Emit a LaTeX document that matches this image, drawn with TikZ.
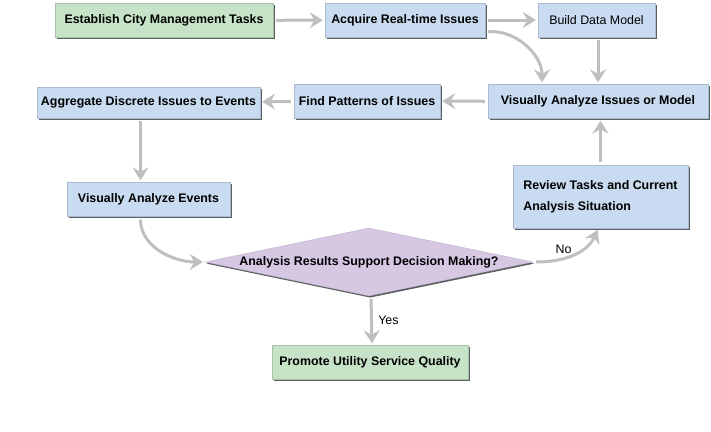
\documentclass[tikz,border=0pt]{standalone}
\usepackage{fontspec}
\setmainfont{Liberation Sans}
\usetikzlibrary{arrows.meta,shapes.geometric,shadows}
\definecolor{TaskClr}{rgb}{0.78,0.89,0.78}
\definecolor{IssueClr}{rgb}{0.79,0.86,0.94}
\definecolor{DecisionClr}{rgb}{0.84,0.78,0.89}
\definecolor{ArrowClr}{rgb}{0.75,0.75,0.75}
\definecolor{ShadowClr}{rgb}{0.35,0.37,0.38}

\tikzset{
  box/.style={rectangle,inner sep=0pt,minimum height=34pt,
    font=\fontsize{12.4}{21}\selectfont\bfseries,
    drop shadow={shadow xshift=1.6pt,shadow yshift=-1.6pt,fill=ShadowClr,opacity=1}},
  taskbox/.style={box,fill=TaskClr,draw=TaskClr!85!black,line width=0.3pt},
  issuebox/.style={box,fill=IssueClr,draw=IssueClr!85!black,line width=0.3pt},
  decision/.style={diamond,aspect=4.8,inner sep=0pt,fill=DecisionClr,draw=DecisionClr!85!black,
    line width=0.3pt,minimum width=328pt,minimum height=68pt,
    font=\fontsize{12.4}{21}\selectfont\bfseries,
    drop shadow={shadow xshift=1.2pt,shadow yshift=-1.6pt,fill=ShadowClr,opacity=1}},
  flow/.style={draw=ArrowClr,line width=3pt,
    -{Stealth[length=13pt,width=16pt,inset=4.5pt]},shorten <=3pt,shorten >=2pt},
  flowlabel/.style={font=\fontsize{12.4}{15}\selectfont}
}

\begin{document}
\begin{tikzpicture}[x=1pt,y=-1pt]
\useasboundingbox (0,0) rectangle (711,431);

\node[taskbox,minimum width=218pt] (est) at (164,20.5) {Establish City Management Tasks};
\node[issuebox,minimum width=160pt] (acq) at (405,20) {Acquire Real-time Issues};
\node[issuebox,minimum width=117pt,font=\fontsize{12.4}{21}\selectfont] (build) at (596.5,20) {Build Data Model};
\node[issuebox,minimum width=220pt] (vai) at (598,101.5) {Visually Analyze Issues or Model};
\node[issuebox,minimum width=146pt] (find) at (367,101) {Find Patterns of Issues};
\node[issuebox,minimum width=223pt,minimum height=31pt] (agg) at (148.5,102.5) {Aggregate Discrete Issues to Events};
\node[issuebox,minimum width=163pt] (vae) at (148.5,199.5) {Visually Analyze Events};
\node[issuebox,minimum width=175pt,minimum height=63pt,align=left] (review) at (600.5,196.5) {Review Tasks and Current\\Analysis Situation};
\node[decision] (dec) at (369,262) {Analysis Results Support Decision Making?};
\node[taskbox,minimum width=196pt] (prom) at (370,362.5) {Promote Utility Service Quality};

\draw[flow] (est) -- (acq);
\draw[flow] (acq) -- (build);
\draw[flow] ([yshift=-12pt]acq.east) to[out=5,in=90] ([xshift=-56pt]vai.north);
\draw[flow] (build.south -| vai.north) -- (vai.north);
\draw[flow] (vai) -- (find);
\draw[flow] (find) -- (agg);
\draw[flow] ([xshift=-8pt]agg.south) -- ([xshift=-8pt]vae.north);
\draw[flow] ([xshift=-8pt]vae.south) to[out=-90,in=180] (dec.west);
\draw[flow] (dec.east) to[out=0,in=-115] node[flowlabel,above,pos=0.38] (no) {No} ([xshift=-2pt]review.south);
\draw[flow] (review.north) -- (review.north |- vai.south);
\draw[flow] ([xshift=2pt]dec.south) -- node[flowlabel,right=2pt] (yes) {Yes} ([xshift=2pt]prom.north);

\end{tikzpicture}
\end{document}
